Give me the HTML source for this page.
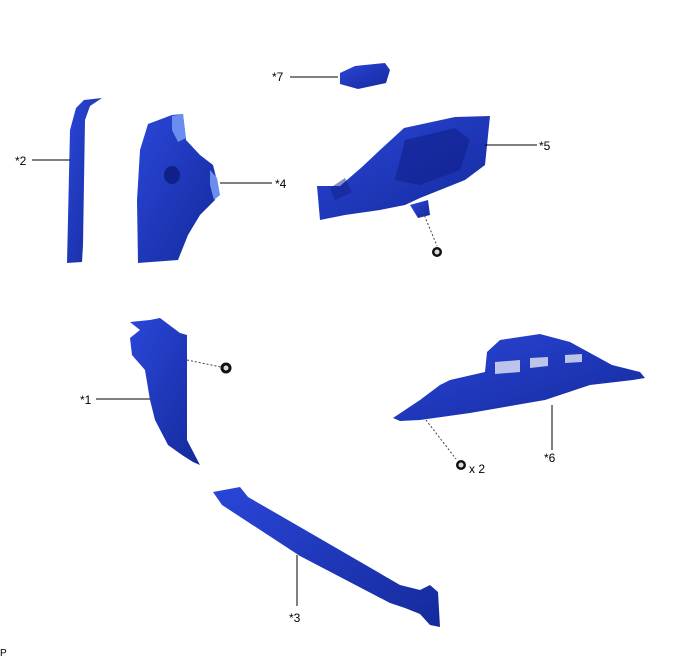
<!DOCTYPE html>
<html><head><style>
html,body{margin:0;padding:0;background:#fff;}
svg{display:block;}
text{font-family:"Liberation Sans",sans-serif;font-size:12px;fill:#000;}
</style></head><body>
<svg width="688" height="658" viewBox="0 0 688 658">
<defs>
<linearGradient id="g" x1="0" y1="0" x2="1" y2="1">
<stop offset="0" stop-color="#2a46d8"/><stop offset="1" stop-color="#142a9c"/>
</linearGradient>
</defs>
<!-- Part 2 -->
<polygon points="76,108 84,100 102,98 90,106 85,120 83,245 82,262 67,263 70,130" fill="url(#g)"/>
<!-- Part 4 -->
<polygon points="148,124 172,115 183,114 186,140 200,155 213,165 218,185 215,200 200,215 188,235 178,260 138,263 137,200 140,150" fill="url(#g)"/>
<polygon points="172,116 183,114 186,138 178,142 172,130" fill="#6a8ef0"/>
<polygon points="210,170 217,178 220,195 214,200 210,185" fill="#6a8ef0"/>
<ellipse cx="172" cy="175" rx="8" ry="9" fill="#10208a"/>
<!-- Part 7 -->
<polygon points="340,73 355,66 385,63 390,70 386,83 358,89 340,84" fill="url(#g)"/>
<!-- Part 5 -->
<polygon points="317,186 340,186 362,167 380,150 404,128 455,117 490,116 485,165 465,180 440,190 420,198 405,205 380,210 345,215 320,220" fill="url(#g)"/>
<polygon points="330,188 345,178 352,192 335,200" fill="#10208a" opacity="0.5"/>
<polygon points="405,140 455,128 470,140 460,170 420,185 395,180" fill="#10208a" opacity="0.6"/>
<polygon points="410,205 428,200 430,215 418,218" fill="url(#g)"/>
<line x1="423" y1="212" x2="437" y2="246" stroke="#444" stroke-dasharray="2,2"/>
<circle cx="437" cy="252" r="5" fill="#111"/><circle cx="437" cy="252" r="2.5" fill="#ddd"/>
<!-- Part 1 -->
<polygon points="130,338 140,330 130,322 150,320 160,318 180,333 187,335 187,440 200,465 193,462 182,455 168,445 155,420 150,400 145,370 132,355" fill="url(#g)"/>
<line x1="187" y1="360" x2="221" y2="367" stroke="#444" stroke-dasharray="2,2"/>
<circle cx="226" cy="368" r="5.5" fill="#111"/><circle cx="226" cy="368" r="2.5" fill="#ddd"/>
<!-- Part 6 -->
<polygon points="393,418 420,400 440,385 450,380 485,372 487,352 500,340 540,334 570,342 612,365 640,372 645,378 633,380 590,385 545,400 470,413 420,420 400,421" fill="url(#g)"/>
<polygon points="495,362 520,360 520,372 495,374" fill="#fff" opacity="0.7"/>
<polygon points="530,358 548,357 548,366 530,368" fill="#fff" opacity="0.7"/>
<polygon points="565,355 582,354 582,362 565,363" fill="#fff" opacity="0.7"/>
<line x1="426" y1="420" x2="456" y2="459" stroke="#444" stroke-dasharray="2,2"/>
<circle cx="461" cy="465" r="5" fill="#111"/><circle cx="461" cy="465" r="2.5" fill="#ddd"/>
<!-- Part 3 -->
<polygon points="213,492 240,487 248,497 300,527 400,585 420,590 430,585 438,592 440,627 430,625 420,614 405,608 390,603 300,556 222,505" fill="url(#g)"/>
<!-- leader lines -->
<g stroke="#000" stroke-width="1">
<line x1="32" y1="160" x2="70" y2="160"/>
<line x1="220" y1="183" x2="272" y2="183"/>
<line x1="290" y1="77" x2="338" y2="77"/>
<line x1="485" y1="145" x2="537" y2="145"/>
<line x1="96" y1="399" x2="150" y2="399"/>
<line x1="552" y1="405" x2="552" y2="450"/>
<line x1="297" y1="555" x2="297" y2="606"/>
</g>
<text x="15" y="165">*2</text>
<text x="275" y="188">*4</text>
<text x="272" y="81">*7</text>
<text x="539" y="150">*5</text>
<text x="80" y="404">*1</text>
<text x="544" y="462">*6</text>
<text x="289" y="622">*3</text>
<text x="469" y="473">x 2</text>
<text x="0" y="656" style="font-size:10px">P</text>
</svg>
</body></html>
